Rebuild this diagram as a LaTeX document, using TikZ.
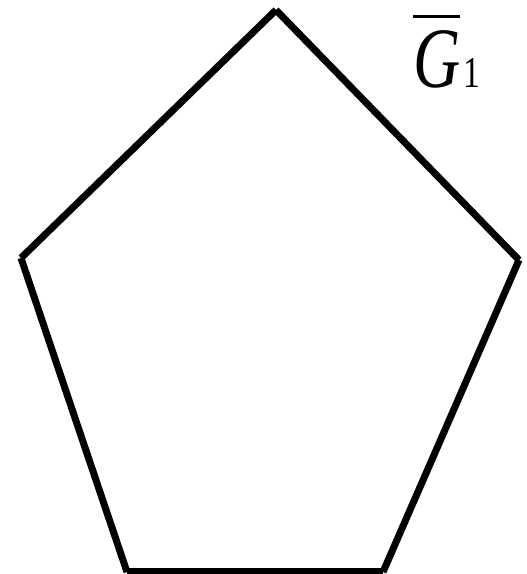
\documentclass[tikz,border=0pt]{standalone}
\usepackage{fontspec}
\setmainfont{Liberation Serif}
\newcommand{\barG}{\setbox0\hbox{\itshape G}\vbox{\hrule height 3pt width \wd0\kern 13pt\box0}}
\begin{document}
\begin{tikzpicture}[x=1pt,y=1pt,
  edge/.style={line width=7pt,line cap=butt},
  lbl/.style={inner sep=0pt,anchor=base west}]
\useasboundingbox (0,0) rectangle (527,574);
\coordinate (t) at (276,564);
\coordinate (r) at (519,314);
\coordinate (br) at (383,2);
\coordinate (bl) at (127,2);
\coordinate (l) at (21,316);
\draw[edge] (t) -- (r);
\draw[edge] (r) -- (br);
\draw[edge] (br) -- (bl);
\draw[edge] (bl) -- (l);
\draw[edge] (l) -- (t);
\node[lbl] (g) at (413,486) {\scalebox{0.76}[1]{\fontsize{86}{86}\selectfont\barG\kern 4pt{\fontsize{44}{44}\selectfont 1}}};
\end{tikzpicture}
\end{document}
